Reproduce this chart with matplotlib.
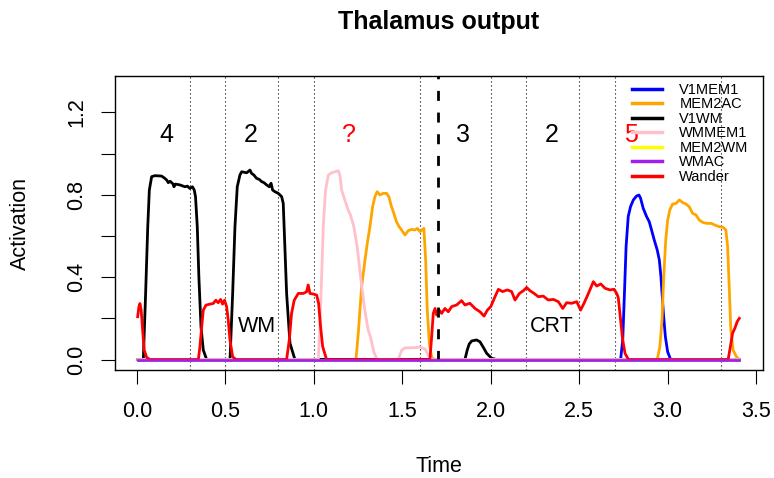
import numpy as np
import matplotlib
matplotlib.use('Agg')
import matplotlib.pyplot as plt

plt.rcParams['font.family'] = ['Liberation Sans', 'DejaVu Sans']

# 各通道的激活曲线（从图上读出的点）
v1mem1_t = [0.004, 2.734, 2.746, 2.755, 2.765, 2.777, 2.790, 2.806, 2.824, 2.838, 2.847, 2.862, 2.881,
            2.896, 2.909, 2.924, 2.941, 2.953, 2.962, 2.976, 2.987, 3.000, 3.017, 3.405]
v1mem1_v = [0, 0, 0.094, 0.305, 0.548, 0.694, 0.742, 0.775, 0.794, 0.799, 0.783, 0.734, 0.694,
            0.669, 0.629, 0.581, 0.532, 0.483, 0.402, 0.224, 0.111, 0.037, 0, 0]

mem2ac_t = [0.004, 1.238, 1.251, 1.270, 1.289, 1.302, 1.317, 1.332, 1.345, 1.358, 1.373, 1.392, 1.411,
            1.424, 1.439, 1.452, 1.467, 1.482, 1.496, 1.515, 1.534, 1.553, 1.571, 1.585, 1.600,
            1.622, 1.632, 1.641, 1.653, 1.666, 1.679,
            2.941, 2.956, 2.968, 2.977, 2.989, 3.000, 3.013, 3.028, 3.047, 3.066, 3.085, 3.104,
            3.122, 3.141, 3.160, 3.179, 3.201, 3.224, 3.248, 3.267, 3.292, 3.314, 3.329, 3.339,
            3.348, 3.357, 3.370, 3.389, 3.405]
mem2ac_v = [0, 0, 0.126, 0.353, 0.483, 0.564, 0.645, 0.742, 0.791, 0.815, 0.799, 0.807, 0.807,
            0.791, 0.742, 0.710, 0.669, 0.645, 0.629, 0.605, 0.626, 0.632, 0.629, 0.637, 0.621,
            0.637, 0.483, 0.240, 0.078, 0.013, 0,
            0, 0.062, 0.191, 0.386, 0.580, 0.677, 0.729, 0.755, 0.758, 0.775, 0.762, 0.755,
            0.742, 0.710, 0.702, 0.677, 0.665, 0.661, 0.661, 0.653, 0.645, 0.642, 0.629, 0.548,
            0.353, 0.143, 0.046, 0.013, 0]

v1wm_t = [0.004, 0.036, 0.049, 0.061, 0.070, 0.083, 0.102, 0.139, 0.153, 0.168, 0.177, 0.187, 0.205,
          0.209, 0.218, 0.243, 0.271, 0.285, 0.299, 0.314, 0.324, 0.331, 0.341, 0.350, 0.362,
          0.375, 0.394,
          0.526, 0.541, 0.554, 0.567, 0.582, 0.592, 0.620, 0.639, 0.648, 0.661, 0.676, 0.691,
          0.705, 0.718, 0.733, 0.748, 0.758, 0.767, 0.780, 0.799, 0.818, 0.827, 0.846, 0.865, 0.893,
          1.854, 1.867, 1.878, 1.892, 1.920, 1.939, 1.958, 1.977, 2.005, 2.033, 3.405]
v1wm_v = [0, 0, 0.321, 0.645, 0.823, 0.888, 0.893, 0.891, 0.883, 0.872, 0.859, 0.866, 0.852,
          0.839, 0.852, 0.848, 0.839, 0.842, 0.831, 0.839, 0.823, 0.791, 0.645, 0.402, 0.159,
          0.046, 0,
          0, 0.321, 0.645, 0.839, 0.896, 0.912, 0.907, 0.920, 0.904, 0.896, 0.880, 0.875,
          0.864, 0.859, 0.848, 0.839, 0.856, 0.823, 0.815, 0.807, 0.791, 0.758, 0.321, 0.079, 0,
          0, 0.046, 0.075, 0.090, 0.095, 0.086, 0.059, 0.030, 0.006, 0, 0]

wmmem1_t = [0.004, 1.025, 1.034, 1.044, 1.053, 1.066, 1.082, 1.100, 1.119, 1.138, 1.147, 1.157, 1.175,
            1.194, 1.207, 1.226, 1.245, 1.264, 1.288, 1.307, 1.320, 1.339, 1.358,
            1.477, 1.496, 1.515, 1.562, 1.600, 1.628, 1.647, 1.666, 3.405]
wmmem1_v = [0, 0, 0.159, 0.402, 0.645, 0.823, 0.896, 0.907, 0.912, 0.917, 0.896, 0.823, 0.775,
            0.726, 0.702, 0.645, 0.548, 0.402, 0.240, 0.143, 0.110, 0.037, 0,
            0, 0.044, 0.057, 0.057, 0.060, 0.052, 0.020, 0, 0]

mem2wm_t = [0.004, 3.405]
mem2wm_v = [0, 0]

wmac_t = [0.004, 3.405]
wmac_v = [0, 0]

wander_t = [0.004, 0.011, 0.017, 0.024, 0.032, 0.041, 0.055, 0.073,
            0.347, 0.356, 0.366, 0.375, 0.390, 0.412, 0.431, 0.446, 0.459, 0.473, 0.484, 0.495,
            0.507, 0.516, 0.526, 0.541, 0.560,
            0.846, 0.861, 0.874, 0.889, 0.912, 0.940, 0.959, 0.968, 0.978, 0.997, 1.016, 1.027,
            1.038, 1.050, 1.072,
            1.656, 1.666, 1.675, 1.685, 1.694, 1.709, 1.722, 1.741, 1.760, 1.779, 1.807, 1.835,
            1.854, 1.882, 1.911, 1.939, 1.962, 1.981, 2.000, 2.024, 2.043, 2.067, 2.094, 2.118,
            2.137, 2.162, 2.184, 2.203, 2.222, 2.245, 2.269, 2.297, 2.325, 2.354, 2.382, 2.407,
            2.429, 2.457, 2.486, 2.508, 2.527, 2.552, 2.580, 2.599, 2.622, 2.646, 2.674, 2.697,
            2.712, 2.721, 2.733, 2.745, 2.759, 2.778,
            3.342, 3.356, 3.367, 3.380, 3.393, 3.405]
wander_v = [0.208, 0.256, 0.272, 0.240, 0.143, 0.046, 0.010, 0,
            0, 0.062, 0.159, 0.240, 0.264, 0.269, 0.272, 0.288, 0.276, 0.292, 0.269, 0.288,
            0.256, 0.191, 0.094, 0.013, 0,
            0, 0.094, 0.224, 0.288, 0.321, 0.321, 0.329, 0.362, 0.321, 0.318, 0.313, 0.272,
            0.159, 0.062, 0,
            0, 0.111, 0.224, 0.248, 0.216, 0.240, 0.224, 0.248, 0.232, 0.257, 0.265, 0.286,
            0.265, 0.273, 0.248, 0.232, 0.211, 0.240, 0.257, 0.305, 0.341, 0.330, 0.338, 0.330,
            0.289, 0.321, 0.334, 0.350, 0.334, 0.321, 0.305, 0.308, 0.289, 0.292, 0.281, 0.248,
            0.276, 0.273, 0.281, 0.240, 0.273, 0.321, 0.378, 0.357, 0.367, 0.346, 0.338, 0.341,
            0.321, 0.300, 0.200, 0.100, 0.030, 0,
            0, 0.070, 0.128, 0.152, 0.184, 0.200]

series_names = ['V1MEM1', 'MEM2AC', 'V1WM', 'WMMEM1', 'MEM2WM', 'WMAC', 'Wander']
series_colors = ['#0000ff', '#ffa500', '#000000', '#ffc0cb', '#ffff00', '#a020f0', '#ff0000']

# 阶段分隔线
dotted_x = [0.3, 0.5, 0.8, 1.0, 1.6, 2.0, 2.2, 2.5, 2.7, 3.3]
dashed_x = 1.7

# 文字标注
stage_x = [0.165, 0.645, 1.2, 1.845, 2.345, 2.79]
stage_text = ['4', '2', '?', '3', '2', '5']
stage_color = ['black', 'black', 'red', 'black', 'black', 'red']
phase_x = [0.68, 2.345]
phase_text = ['WM', 'CRT']

fig = plt.figure(figsize=(7.74, 4.78), dpi=100)
ax = fig.add_axes([0.1486, 0.2259, 0.8372, 0.6151])

curves = [(v1mem1_t, v1mem1_v), (mem2ac_t, mem2ac_v), (v1wm_t, v1wm_v), (wmmem1_t, wmmem1_v),
          (mem2wm_t, mem2wm_v), (wmac_t, wmac_v), (wander_t, wander_v)]
lines = {}
for (t, v), name, c in zip(curves, series_names, series_colors):
    z = 3
    if name == 'WMAC':
        z = 5  # 紫色基线盖在最上面
    lines[name], = ax.plot(t, v, color=c, lw=2, label=name, zorder=z,
                           solid_joinstyle='round')

for x in dotted_x:
    ax.axvline(x, color='black', lw=0.8, dashes=(1, 2.6), zorder=1)
ax.axvline(dashed_x, color='black', lw=2, linestyle=(4.35, (3.6, 4.2)), zorder=4)

for x, s, c in zip(stage_x, stage_text, stage_color):
    ax.text(x, 1.09, s, color=c, fontsize=18, ha='center', va='center')
for x, s in zip(phase_x, phase_text):
    ax.text(x, 0.16, s, color='black', fontsize=15.5, ha='center', va='center', zorder=6)

ax.set_xlim(-0.124, 3.539)
ax.set_ylim(-0.051, 1.377)
ax.set_xticks(np.arange(0, 3.51, 0.5))
ax.set_xticklabels([f'{x:.1f}' for x in np.arange(0, 3.51, 0.5)])
yt = np.arange(0, 1.21, 0.2)
ax.set_yticks(yt)
ax.set_yticklabels([f'{y:.1f}' if i % 2 == 0 else '' for i, y in enumerate(yt)])
ax.tick_params(axis='both', length=10, width=0.8, labelsize=15.5, direction='out')
ax.tick_params(axis='x', pad=12)
ax.tick_params(axis='y', pad=10)
for lab in ax.get_yticklabels():
    lab.set_rotation(90)
    lab.set_va('center')
for sp in ax.spines.values():
    sp.set_linewidth(1.0)

ax.set_xlabel('Time', fontsize=15.5, va='center')
ax.xaxis.set_label_coords(0.5, -0.327)
ax.set_ylabel('Activation', fontsize=15.5, va='center', ha='center')
ax.yaxis.set_label_coords(-0.1466, 0.5)

fig.text(439 / 774, 1 - 22 / 478, 'Thalamus output', fontsize=18, fontweight='bold',
         ha='center', va='center')

leg = ax.legend(handles=[lines[n] for n in series_names], loc='upper left',
                bbox_to_anchor=(632 / 774, 1 - 83 / 478), bbox_transform=fig.transFigure,
                frameon=False, fontsize=10.5, handlelength=2.05, handletextpad=1.2,
                labelspacing=0.03, borderpad=0, borderaxespad=0)
for h in leg.get_lines():
    h.set_linewidth(2.5)

fig.savefig('out.png', dpi=100)
